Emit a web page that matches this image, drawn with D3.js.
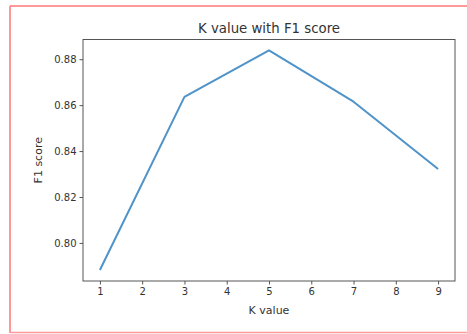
<!DOCTYPE html>
<html><head><meta charset="utf-8">
<script src="https://cdn.jsdelivr.net/npm/d3@7"></script>
<style>body{margin:0;background:#fff}svg{display:block}</style>
</head><body>
<svg id="c" width="467" height="334"></svg>
<script>
const kValues = [1, 3, 5, 7, 9];
const f1Scores = [0.7882, 0.8636, 0.8838, 0.8615, 0.8322];
const xTicks = [1, 2, 3, 4, 5, 6, 7, 8, 9];
const yTicks = [0.80, 0.82, 0.84, 0.86, 0.88];
const title = "K value with F1 score";
const xLabel = "K value";
const yLabel = "F1 score";

const svg = d3.select("#c");
const font = "DejaVu Sans, sans-serif";
const textColor = "#333";
// red frame
svg.append("line").attr("x1",10).attr("x2",10).attr("y1",6).attr("y2",333).attr("stroke","#f77").attr("stroke-width",1.5);
svg.append("line").attr("x1",10).attr("x2",467).attr("y1",6).attr("y2",6).attr("stroke","#f77").attr("stroke-width",1.5);
svg.append("line").attr("x1",10).attr("x2",467).attr("y1",332.5).attr("y2",332.5).attr("stroke","#f99").attr("stroke-width",1.5);

const L = 83, R = 455, T = 39.5, B = 281;
const xPad = (d3.max(kValues) - d3.min(kValues)) * 0.05;
const yExt = d3.extent(f1Scores), yPad = (yExt[1]-yExt[0]) * 0.05;
const x = d3.scaleLinear().domain([d3.min(kValues)-xPad, d3.max(kValues)+xPad]).range([L, R]);
const y = d3.scaleLinear().domain([yExt[0]-yPad, yExt[1]+yPad]).range([B, T]);

const xAxis = svg.append("g").attr("transform",`translate(0,${B})`)
  .call(d3.axisBottom(x).tickValues(xTicks).tickFormat(d3.format("d")).tickSize(3.5).tickPadding(3));
const yAxis = svg.append("g").attr("transform",`translate(${L},0)`)
  .call(d3.axisLeft(y).tickValues(yTicks).tickFormat(d3.format(".2f")).tickSize(3.5).tickPadding(3));
[xAxis, yAxis].forEach(a => {
  a.select(".domain").remove();
  a.selectAll(".tick line").attr("stroke","#555").attr("stroke-width",1);
  a.selectAll(".tick text").attr("fill",textColor).style("font-family",font).style("font-size","10px");
});

svg.append("rect").attr("x",L).attr("y",T).attr("width",R-L).attr("height",B-T)
  .attr("fill","none").attr("stroke","#555").attr("stroke-width",1);

const line = d3.line().x((d,i)=>x(kValues[i])).y(d=>y(d));
svg.append("path").datum(f1Scores).attr("d",line).attr("fill","none")
  .attr("stroke","#4f93c9").attr("stroke-width",2).attr("stroke-linejoin","round");

svg.append("text").attr("x",(L+R)/2).attr("y",33).attr("text-anchor","middle")
  .style("font-family",font).style("font-size","13.3px").attr("fill",textColor).text(title);
svg.append("text").attr("x",(L+R)/2).attr("y",314).attr("text-anchor","middle")
  .style("font-family",font).style("font-size","11px").attr("fill",textColor).text(xLabel);
svg.append("text").attr("transform",`translate(42,${(T+B)/2}) rotate(-90)`).attr("text-anchor","middle")
  .style("font-family",font).style("font-size","11px").attr("fill",textColor).text(yLabel);
</script>
</body></html>
